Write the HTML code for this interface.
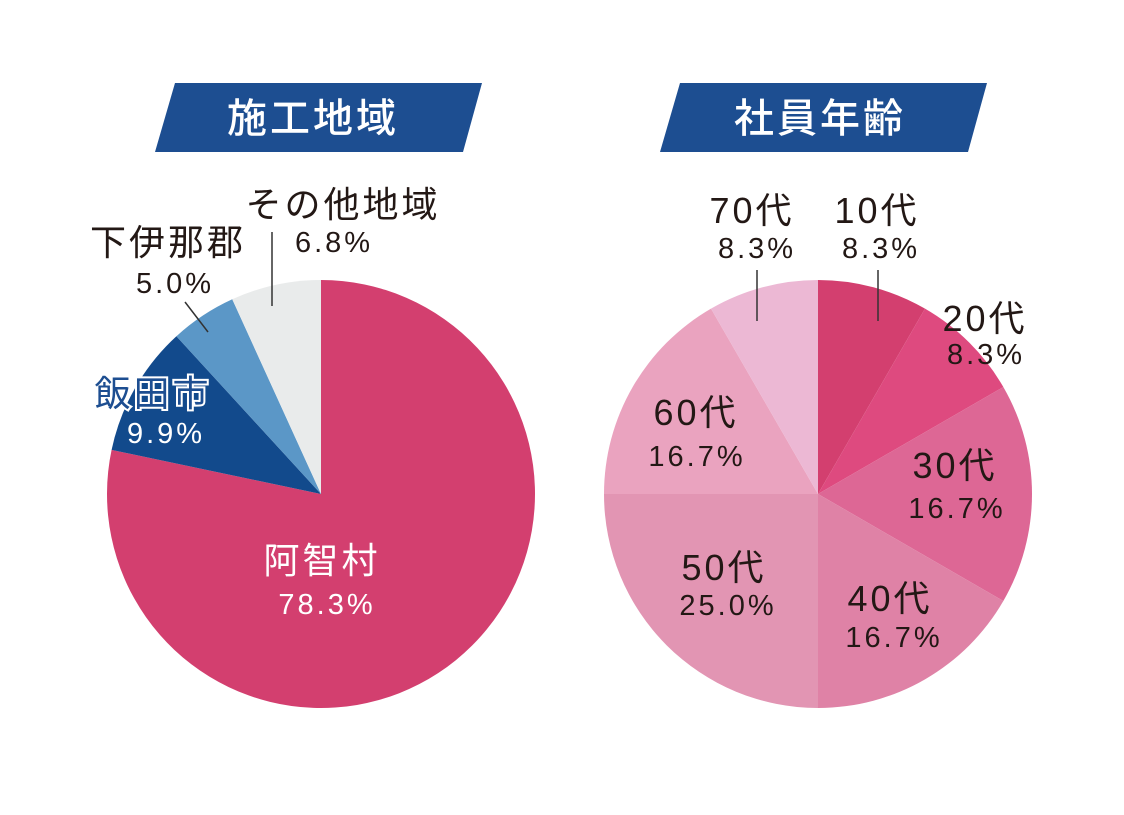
<!DOCTYPE html>
<html><head><meta charset="utf-8"><style>
html,body{margin:0;padding:0;background:#fff;}
svg{display:block}
text{font-family:"Liberation Sans","Noto Sans CJK JP",sans-serif;text-anchor:middle;fill:#231815}
.n{font-size:36px;letter-spacing:3px}
.p{font-size:29px;letter-spacing:3px}
</style></head><body>
<svg width="1124" height="815" viewBox="0 0 1124 815" xmlns="http://www.w3.org/2000/svg">
<polygon points="175,83 482,83 463,152 155,152" fill="#1d4e91"/>
<polygon points="680,83 987,83 968,152 660,152" fill="#1d4e91"/>
<text x="313" y="132" style="font-size:40px;fill:#fff;font-weight:500;letter-spacing:3px">施工地域</text>
<text x="820" y="132" style="font-size:40px;fill:#fff;font-weight:500;letter-spacing:3px">社員年齢</text>
<g id="L"></g>
<g id="R"></g>
<script>
function arc(cx,cy,r,a0,a1,col,g){
 var t=function(a){a=a*Math.PI/180;return [cx+r*Math.sin(a),cy-r*Math.cos(a)];};
 var p0=t(a0),p1=t(a1),lg=(a1-a0)>180?1:0;
 var e=document.createElementNS("http://www.w3.org/2000/svg","path");
 e.setAttribute("d","M"+cx+","+cy+"L"+p0[0]+","+p0[1]+"A"+r+","+r+" 0 "+lg+" 1 "+p1[0]+","+p1[1]+"Z");
 e.setAttribute("fill",col);document.getElementById(g).appendChild(e);
}
arc(321,494,214,0,281.9,"#d33f6f","L");
arc(321,494,214,281.9,317.5,"#124a8c","L");
arc(321,494,214,317.5,335.5,"#5b97c7","L");
arc(321,494,214,335.5,360,"#e9ebeb","L");
var rc=[[0,30,"#d33f6f"],[30,60,"#de4a7f"],[60,120,"#dd6795"],[120,180,"#df82a6"],[180,270,"#e295b3"],[270,330,"#eaa3bf"],[330,360,"#ecb8d4"]];
rc.forEach(function(s){arc(818,494,214,s[0],s[1],s[2],"R");});
</script>
<g stroke="#333" stroke-width="1.5">
<line x1="272" y1="232" x2="272" y2="306"/>
<line x1="185" y1="302" x2="208" y2="332"/>
<line x1="757" y1="270" x2="757" y2="321"/>
<line x1="878" y1="270" x2="878" y2="321"/>
</g>
<text class="n" x="343" y="217">その他地域</text>
<text class="p" x="334" y="252">6.8%</text>
<text class="n" x="168" y="255">下伊那郡</text>
<text class="p" x="175" y="293">5.0%</text>
<text class="n" x="153" y="406" style="fill:#1d4e91;stroke:#fff;stroke-width:4px;paint-order:stroke">飯田市</text>
<text class="p" x="166" y="443" style="fill:#fff">9.9%</text>
<text class="n" x="322" y="573" style="fill:#fff">阿智村</text>
<text class="p" x="327" y="614" style="fill:#fff">78.3%</text>
<text class="n" x="752" y="223">70代</text>
<text class="p" x="757" y="258">8.3%</text>
<text class="n" x="877" y="223">10代</text>
<text class="p" x="881" y="258">8.3%</text>
<text class="n" x="985" y="331">20代</text>
<text class="p" x="986" y="364">8.3%</text>
<text class="n" x="696" y="425">60代</text>
<text class="p" x="697" y="466">16.7%</text>
<text class="n" x="955" y="478">30代</text>
<text class="p" x="957" y="518">16.7%</text>
<text class="n" x="724" y="580">50代</text>
<text class="p" x="728" y="615">25.0%</text>
<text class="n" x="890" y="611">40代</text>
<text class="p" x="894" y="647">16.7%</text>
</svg>
</body></html>
